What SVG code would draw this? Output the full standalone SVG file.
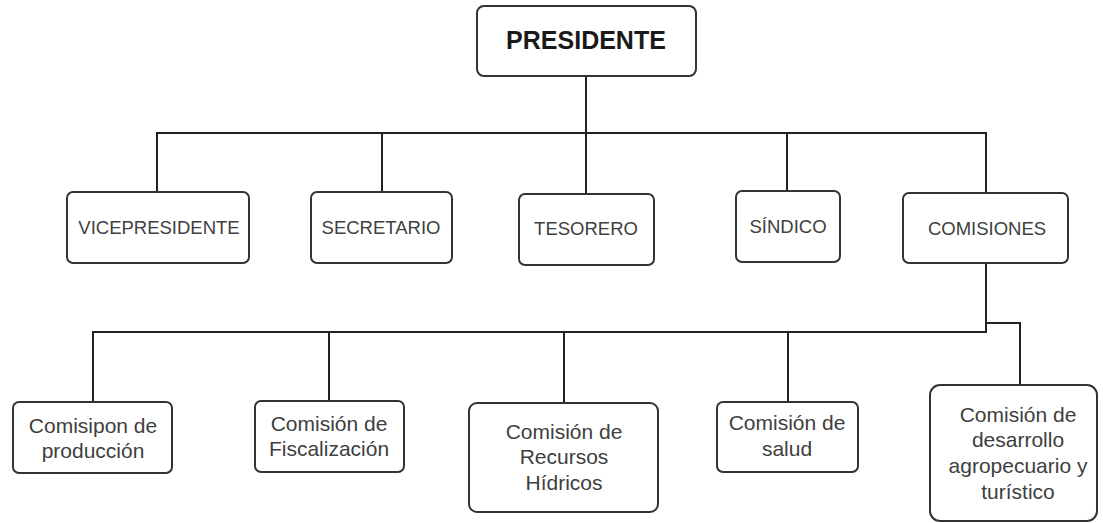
<svg xmlns="http://www.w3.org/2000/svg" width="1103" height="523" viewBox="0 0 1103 523">
<style>
.box{fill:#fff;stroke:#333;stroke-width:2}
.t{font-family:"Liberation Sans",Arial,sans-serif;fill:#404040;text-anchor:middle}
.c1{font-size:18.5px}
.c2{font-size:21px}
.ln{fill:none;stroke:#222;stroke-width:2}
</style>
<rect width="1103" height="523" fill="#fff"/>
<g id="connectors">
<path class="ln" d="M586 76V133M157 192V133H986V193M382 133V192M586 133V194M787 133V191"/>
<path class="ln" d="M986 263V332H93V402M329 332V401M564 332V403M788 332V402" />
<path class="ln" d="M986 263V332" stroke-width="3"/>
<path class="ln" d="M986 323H1020V385" stroke="#444"/>
</g>
<g id="presidente"><rect class="box" x="477" y="6" width="219" height="70" rx="7"/><text class="t" x="586" y="49" font-size="25" font-weight="bold" style="fill:#1a1a1a">PRESIDENTE</text></g>
<g id="vicepresidente"><rect class="box" x="67" y="192" width="182" height="71" rx="6"/><text class="t c1" x="159" y="234">VICEPRESIDENTE</text></g>
<g id="secretario"><rect class="box" x="311" y="192" width="141" height="71" rx="6"/><text class="t c1" x="381" y="234">SECRETARIO</text></g>
<g id="tesorero"><rect class="box" x="519" y="194" width="135" height="71" rx="6"/><text class="t c1" x="586" y="235">TESORERO</text></g>
<g id="sindico"><rect class="box" x="736" y="191" width="104" height="71" rx="6"/><text class="t c1" x="788" y="233">SÍNDICO</text></g>
<g id="comisiones"><rect class="box" x="903" y="193" width="165" height="70" rx="6"/><text class="t c1" x="987" y="235">COMISIONES</text></g>
<g id="produccion"><rect class="box" x="13" y="402" width="159" height="71" rx="6"/><text class="t c2" x="93" y="433">Comisipon de</text><text class="t c2" x="93" y="458">producción</text></g>
<g id="fiscalizacion"><rect class="box" x="255" y="401" width="149" height="71" rx="6"/><text class="t c2" x="329" y="431">Comisión de</text><text class="t c2" x="329" y="456">Fiscalización</text></g>
<g id="hidricos"><rect class="box" x="469" y="403" width="189" height="109" rx="8"/><text class="t c2" x="564" y="439">Comisión de</text><text class="t c2" x="564" y="464">Recursos</text><text class="t c2" x="564" y="490">Hídricos</text></g>
<g id="salud"><rect class="box" x="717" y="402" width="141" height="70" rx="6"/><text class="t c2" x="787" y="430">Comisión de</text><text class="t c2" x="787" y="456">salud</text></g>
<g id="desarrollo"><rect class="box" x="930" y="385" width="167" height="136" rx="10"/><text class="t c2" x="1018" y="422">Comisión de</text><text class="t c2" x="1018" y="447">desarrollo</text><text class="t c2" x="1018" y="473">agropecuario y</text><text class="t c2" x="1018" y="499">turístico</text></g>
</svg>
